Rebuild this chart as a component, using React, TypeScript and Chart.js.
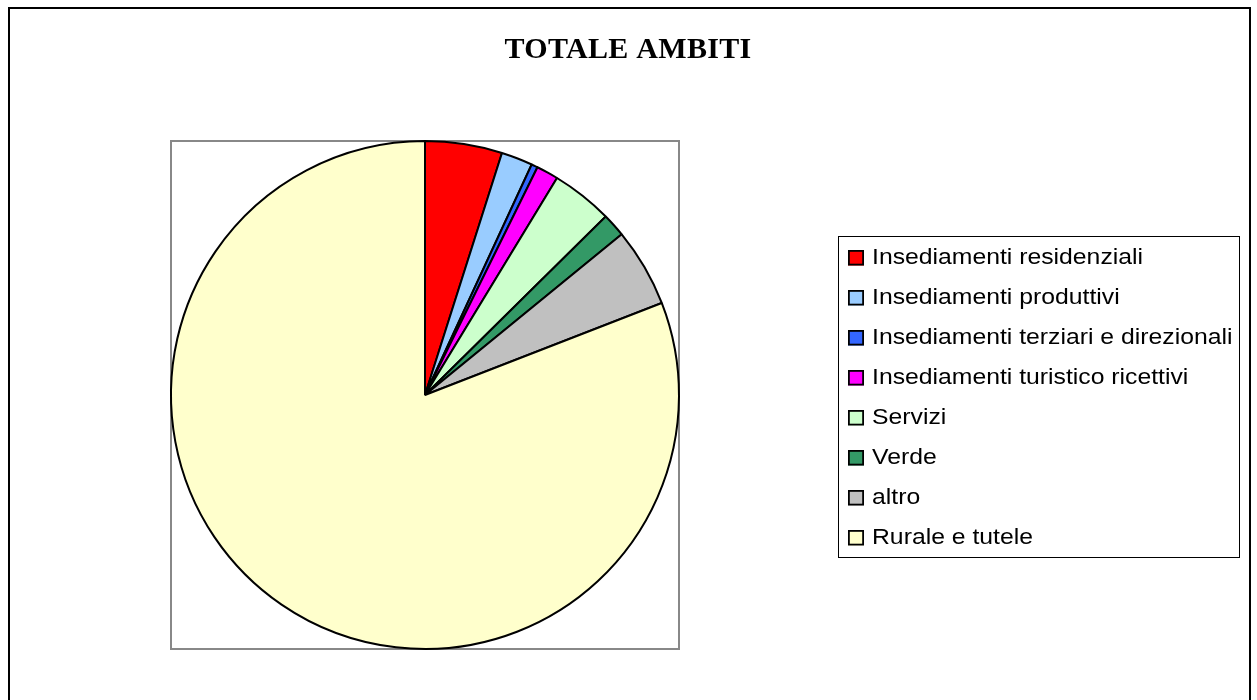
import React, { useEffect, useRef } from "react";
import { Chart, registerables } from "chart.js";

Chart.register(...registerables);

const chartTitle = "TOTALE AMBITI";
const categories = [
  "Insediamenti residenziali",
  "Insediamenti produttivi",
  "Insediamenti terziari e direzionali",
  "Insediamenti turistico ricettivi",
  "Servizi",
  "Verde",
  "altro",
  "Rurale e tutele",
];
const values = [4.9, 2.0, 0.4, 1.4, 3.9, 1.5, 5.0, 80.9];
const colors = [
  "#FF0000",
  "#99CCFF",
  "#3366FF",
  "#FF00FF",
  "#CCFFCC",
  "#339966",
  "#C0C0C0",
  "#FFFFCC",
];

const W = 1239;
const H = 700;

const decorPlugin = {
  id: "decor",
  beforeDatasetsDraw(chart: any) {
    const ctx = chart.ctx as CanvasRenderingContext2D;
    const a = chart.chartArea;
    ctx.save();
    ctx.strokeStyle = "#888888";
    ctx.lineWidth = 2;
    ctx.strokeRect(a.left + 1, a.top + 1, a.right - a.left - 2, a.bottom - a.top - 2);
    ctx.restore();
  },
  afterDraw(chart: any) {
    const ctx = chart.ctx as CanvasRenderingContext2D;
    ctx.save();
    // title
    ctx.fillStyle = "#000";
    ctx.font = "bold 30px 'Liberation Serif', 'Times New Roman', serif";
    ctx.textAlign = "center";
    ctx.textBaseline = "alphabetic";
    (ctx as any).letterSpacing = "0.3px";
    ctx.fillText(chartTitle, 618, 48.5);
    (ctx as any).letterSpacing = "0px";

    // legend box
    ctx.strokeStyle = "#000";
    ctx.lineWidth = 1;
    ctx.strokeRect(828.5, 227.5, 401, 321);
    ctx.font = "22px 'Liberation Sans', Arial, sans-serif";
    ctx.textAlign = "left";
    categories.forEach((label, i) => {
      const cy = 248.5 + i * 40;
      ctx.fillStyle = colors[i];
      ctx.fillRect(838, cy - 7.5, 16, 15.5);
      ctx.lineWidth = 1.8;
      ctx.strokeStyle = "#000";
      ctx.strokeRect(838.9, cy - 6.6, 14.2, 13.7);
      ctx.fillStyle = "#000";
      ctx.save();
      ctx.translate(862, cy + 6.2);
      ctx.scale(1.125, 1);
      ctx.fillText(label, 0, 0);
      ctx.restore();
    });
    ctx.restore();
  },
};

export default function App() {
  const ref = useRef<HTMLCanvasElement | null>(null);
  useEffect(() => {
    document.documentElement.style.overflow = "hidden";
    document.body.style.overflow = "hidden";
    if (!ref.current) return;
    const chart = new Chart(ref.current, {
      type: "pie",
      data: {
        labels: categories,
        datasets: [
          {
            data: values,
            backgroundColor: colors,
            borderColor: "#000000",
            borderWidth: 2,
          },
        ],
      },
      options: {
        responsive: false,
        animation: false,
        layout: {
          padding: { left: 160, top: 131, right: W - 670, bottom: H - 641 },
        },
        plugins: {
          legend: { display: false },
          title: { display: false },
          tooltip: { enabled: false },
        },
      },
      plugins: [decorPlugin],
    });
    return () => chart.destroy();
  }, []);
  return (
    <div
      style={{
        position: "fixed",
        top: 7,
        left: 8,
        right: 6,
        bottom: -20,
        borderTop: "2px solid #000",
        borderLeft: "2px solid #000",
        borderRight: "2px solid #000",
        background: "#fff",
        overflow: "hidden",
      }}
    >
      <canvas ref={ref} width={W} height={H} style={{ display: "block" }} />
    </div>
  );
}
